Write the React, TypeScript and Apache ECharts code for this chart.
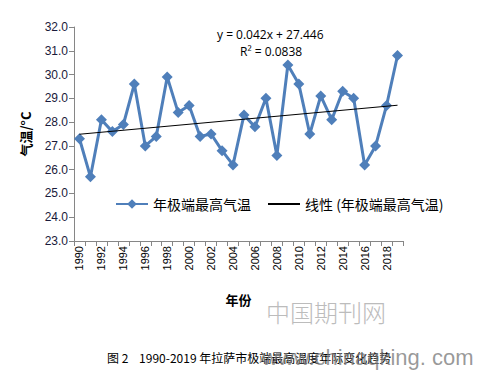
import React, { useEffect, useRef } from "react";
import * as echarts from "echarts";

const years = [
  "1990","1991","1992","1993","1994","1995","1996","1997","1998","1999",
  "2000","2001","2002","2003","2004","2005","2006","2007","2008","2009",
  "2010","2011","2012","2013","2014","2015","2016","2017","2018","2019",
];
const tempMax = [
  27.3, 25.7, 28.1, 27.6, 27.9, 29.6, 27.0, 27.4, 29.9, 28.4,
  28.7, 27.4, 27.5, 26.8, 26.2, 28.3, 27.8, 29.0, 26.6, 30.4,
  29.6, 27.5, 29.1, 28.1, 29.3, 29.0, 26.2, 27.0, 28.7, 30.8,
];
// trend line endpoints (first year, last year)
const trendEnds = [27.49, 28.71];
const yTicks = { min: 23, max: 32, step: 1 };

const seriesName = "年极端最高气温";
const trendName = "线性 (年极端最高气温)";

export default function App() {
  const ref = useRef<HTMLDivElement>(null);
  useEffect(() => {
    if (!ref.current) return;
    const chart = echarts.init(ref.current, null, { renderer: "svg" });
    const trendData = years.map((_, i) =>
      i === 0 ? trendEnds[0] : i === years.length - 1 ? trendEnds[1] : null
    );
    const font = "'Liberation Sans', Arial, sans-serif";
    chart.setOption({
      animation: false,
      backgroundColor: "#ffffff",
      textStyle: { fontFamily: font },
      grid: { left: 74, right: 90, top: 27, bottom: 129, containLabel: false },
      legend: {
        left: 110,
        top: 192,
        itemWidth: 32,
        itemHeight: 12,
        itemGap: 16,
        textStyle: { fontSize: 14, color: "#000", fontFamily: "'Noto Sans CJK SC', sans-serif" },
        data: [
          { name: seriesName },
          { name: trendName, itemStyle: { opacity: 0 } },
        ],
      },
      xAxis: {
        type: "category",
        data: years,
        boundaryGap: true,
        axisLine: { lineStyle: { color: "#868686", width: 1 } },
        axisTick: { show: true, interval: 0, length: 5, lineStyle: { color: "#868686" } },
        axisLabel: {
          interval: 1,
          rotate: 90,
          fontSize: 11,
          color: "#000",
          margin: 5,
        },
        name: "年份",
        nameLocation: "middle",
        nameGap: 52,
        nameTextStyle: { fontSize: 13, fontWeight: "bold", color: "#000", fontFamily: "'Noto Sans CJK SC', sans-serif" },
      },
      yAxis: {
        type: "value",
        min: yTicks.min,
        max: yTicks.max,
        interval: yTicks.step,
        splitLine: { show: false },
        axisLine: { show: true, lineStyle: { color: "#868686", width: 1 } },
        axisTick: { show: true, length: 5, lineStyle: { color: "#868686" } },
        axisLabel: {
          formatter: (v: number) => v.toFixed(1),
          fontSize: 12,
          color: "#1a1a3a",
          margin: 6,
        },
        name: "气温/°C",
        nameLocation: "middle",
        nameGap: 42,
        nameRotate: 90,
        nameTextStyle: { fontSize: 13, fontWeight: "bold", color: "#000", fontFamily: "'Noto Sans CJK SC', sans-serif" },
      },
      series: [
        {
          name: seriesName,
          type: "line",
          data: tempMax,
          symbol: "diamond",
          symbolSize: 11,
          showSymbol: true,
          showAllSymbol: true,
          lineStyle: { color: "#4F7FBA", width: 3 },
          itemStyle: { color: "#4F7FBA" },
          z: 2,
        },
        {
          name: trendName,
          type: "line",
          data: trendData,
          connectNulls: true,
          symbol: "none",
          lineStyle: { color: "#000", width: 1 },
          itemStyle: { color: "#000" },
          z: 3,
        },
      ],
      graphic: [
        {
          type: "text",
          left: 217,
          top: 28,
          style: { text: "y = 0.042x + 27.446", fill: "#000", font: "12px 'Open Sans', sans-serif" },
        },
        {
          type: "text",
          left: 240,
          top: 45,
          style: { text: "R² = 0.0838", fill: "#000", font: "12px 'Open Sans', sans-serif" },
        },
        {
          type: "text",
          left: 266,
          top: 299,
          style: { text: "中国期刊网", fill: "#bcbcbc", font: "300 24px 'Noto Sans CJK SC', sans-serif" },
        },
        {
          type: "text",
          left: 107,
          top: 351,
          style: { text: "图 2    1990-2019 年拉萨市极端最高温度年际变化趋势", fill: "#000", font: "12px 'Noto Sans CJK SC', sans-serif" },
        },
        {
          type: "text",
          left: 262,
          top: 346,
          style: { text: "www.chinaqking. com", fill: "rgba(120,120,120,0.75)", font: "22px 'Liberation Sans', sans-serif" },
        },
      ],
    });
    return () => chart.dispose();
  }, []);
  return (
    <div
      ref={ref}
      style={{ position: "fixed", left: 0, top: 0, width: 493, height: 370 }}
    />
  );
}
